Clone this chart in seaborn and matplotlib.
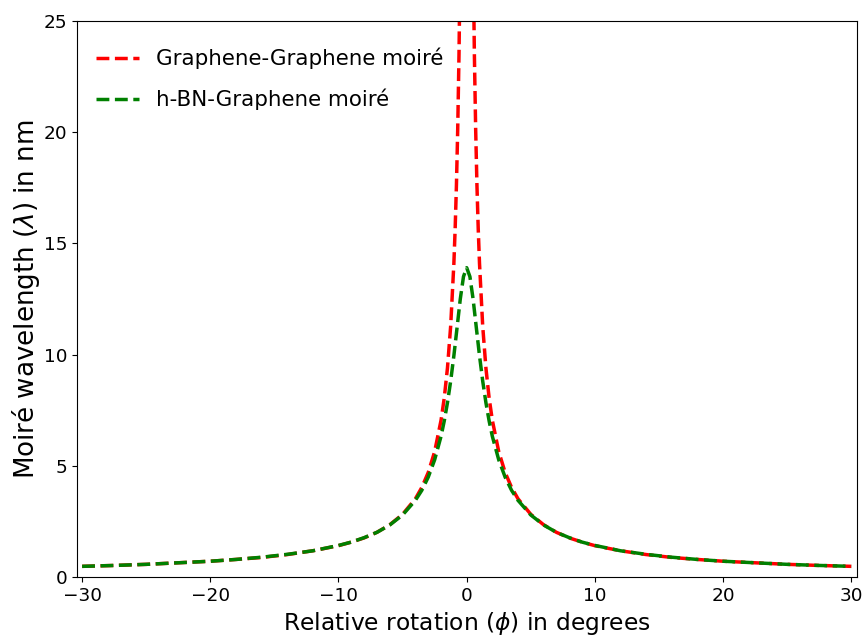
import matplotlib
matplotlib.use("Agg")
import matplotlib.pyplot as plt
import seaborn as sns
import pandas as pd

# Relative rotation (degrees) and moiré wavelengths (nm)
phi_gg = [-30, -27.5, -25, -22.5, -20, -18, -16, -14, -12, -10, -9, -8, -7, -6, -5, -4,
          -3.5, -3, -2.5, -2, -1.75, -1.5, -1.25, -1, -0.9, -0.8, -0.7, -0.6, -0.5,
          0.5, 0.6, 0.7, 0.8, 0.9, 1, 1.25, 1.5, 1.75, 2, 2.5, 3, 3.5, 4, 5, 6, 7, 8,
          9, 10, 12, 14, 16, 18, 20, 22.5, 25, 27.5, 30]
lam_gg = [0.48, 0.52, 0.57, 0.64, 0.71, 0.79, 0.88, 1.01, 1.18, 1.41, 1.57, 1.76, 2.01,
          2.35, 2.82, 3.52, 4.03, 4.70, 5.64, 7.05, 8.05, 9.40, 11.28, 14.10, 15.66,
          17.62, 20.14, 23.49, 28.19,
          28.19, 23.49, 20.14, 17.62, 15.66, 14.10, 11.28, 9.40, 8.05, 7.05, 5.64, 4.70,
          4.03, 3.52, 2.82, 2.35, 2.01, 1.76, 1.57, 1.41, 1.18, 1.01, 0.88, 0.79, 0.71,
          0.64, 0.57, 0.52, 0.48]

phi_bn = [-30, -27.5, -25, -22.5, -20, -18, -16, -14, -12, -10, -9, -8, -7, -6, -5, -4,
          -3.5, -3, -2.5, -2, -1.75, -1.5, -1.25, -1, -0.75, -0.5, -0.25, 0,
          0.25, 0.5, 0.75, 1, 1.25, 1.5, 1.75, 2, 2.5, 3, 3.5, 4, 5, 6, 7, 8, 9, 10,
          12, 14, 16, 18, 20, 22.5, 25, 27.5, 30]
lam_bn = [0.48, 0.52, 0.57, 0.64, 0.71, 0.79, 0.89, 1.02, 1.18, 1.42, 1.57, 1.77, 2.01,
          2.34, 2.79, 3.45, 3.90, 4.49, 5.27, 6.33, 7.02, 7.84, 8.81, 9.95, 11.22,
          12.50, 13.51, 13.91,
          13.51, 12.50, 11.22, 9.95, 8.81, 7.84, 7.02, 6.33, 5.27, 4.49, 3.90, 3.45,
          2.79, 2.34, 2.01, 1.77, 1.57, 1.42, 1.18, 1.02, 0.89, 0.79, 0.71, 0.64, 0.57,
          0.52, 0.48]

series_names = ["Graphene-Graphene moiré", "h-BN-Graphene moiré"]
x_ticks = [-30, -20, -10, 0, 10, 20, 30]
y_ticks = [0, 5, 10, 15, 20, 25]

df_gg = pd.DataFrame({"phi": phi_gg, "lam": lam_gg})
df_bn = pd.DataFrame({"phi": phi_bn, "lam": lam_bn})

fig = plt.figure(figsize=(8.67, 6.39), dpi=100)
ax = fig.add_axes([0.0888, 0.097, 0.8997, 0.870])

sns.lineplot(data=df_gg, x="phi", y="lam", ax=ax, color="red", linestyle="--",
             linewidth=2.5, label=series_names[0], estimator=None)
sns.lineplot(data=df_bn, x="phi", y="lam", ax=ax, color="green", linestyle="--",
             linewidth=2.5, label=series_names[1], estimator=None)

ax.set_xlim(-30.4, 30.45)
ax.set_ylim(0, 25)
ax.set_xticks(x_ticks)
ax.set_yticks(y_ticks)
ax.tick_params(labelsize=13.3)
ax.set_xlabel(r"Relative rotation ($\phi$) in degrees", fontsize=16.8)
ax.set_ylabel(r"Moiré wavelength ($\lambda$) in nm", fontsize=18.8, labelpad=1)
ax.legend(loc="upper left", bbox_to_anchor=(0, 0.987), frameon=False,
          fontsize=15.4, handlelength=2.0, labelspacing=0.92)

fig.savefig("out.png", dpi=100)
